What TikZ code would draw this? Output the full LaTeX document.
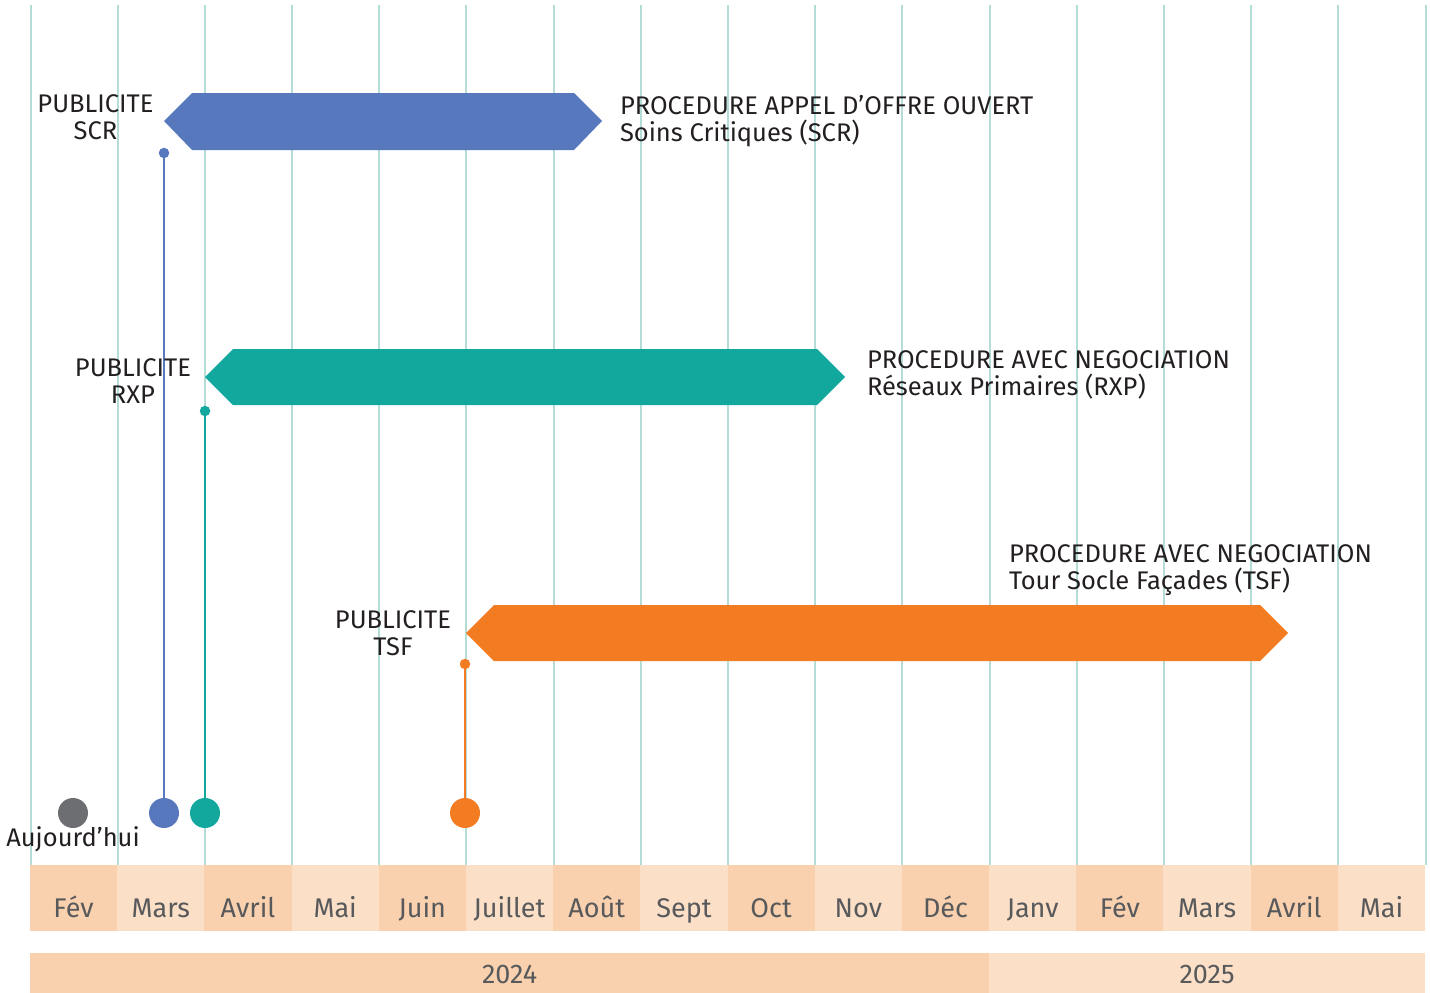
\documentclass[tikz,border=0pt]{standalone}
\usepackage{fontspec}
\setmainfont{Fira Sans}
\definecolor{gridteal}{HTML}{B5DDD8}
\definecolor{peachA}{HTML}{F9D1AF}
\definecolor{peachB}{HTML}{FBDFC7}
\definecolor{scrblue}{HTML}{5878BE}
\definecolor{rxpteal}{HTML}{13A89E}
\definecolor{tsforange}{HTML}{F37B21}
\definecolor{todaygray}{HTML}{6D6E71}
\definecolor{txtdark}{HTML}{231F20}
\definecolor{txtgray}{HTML}{58595B}
\begin{document}
\begin{tikzpicture}[x=1pt,y=-1pt,inner sep=0pt,outer sep=0pt,
gridline/.style={draw=gridteal,line width=2pt},
monthbox/.style={rectangle,anchor=north west,minimum width=87.2pt,minimum height=66pt},
yearbox/.style={rectangle,anchor=north west,minimum height=40pt},
caltext/.style={anchor=base,text=txtgray,font=\fontsize{27}{30}\selectfont},
lbl/.style={text=txtdark,font=\fontsize{25.5}{27}\selectfont},
pinhead/.style={circle,minimum size=30pt},
pinfoot/.style={circle,minimum size=10.5pt},
pinline/.style={line width=2.5pt}]
\useasboundingbox (0,0) rectangle (1430,993);

\foreach \i in {0,...,16}
  \draw[gridline] (30.5+87.19*\i,5) -- (30.5+87.19*\i,865);

\foreach \m/\c [count=\i from 0] in {Fév/peachA,Mars/peachB,Avril/peachA,Mai/peachB,Juin/peachA,Juillet/peachB,Août/peachA,Sept/peachB,Oct/peachA,Nov/peachB,Déc/peachA,Janv/peachB,Fév/peachA,Mars/peachB,Avril/peachA,Mai/peachB}
{
  \node[monthbox,fill=\c] (m\i) at (30+87.19*\i,865) {};
  \node[caltext] at ([yshift=-19pt]m\i.center) {\m};
}
\node[yearbox,fill=peachA,minimum width=959.1pt] (y24) at (30,953) {};
\node[yearbox,fill=peachB,minimum width=435.9pt] (y25) at (989.1,953) {};
\node[caltext] at ([yshift=-10pt]y24.center) {2024};
\node[caltext] at ([yshift=-10pt]y25.center) {2025};

\fill[scrblue] (164,121) -- (192,93) -- (574,93) -- (602,121) -- (574,150) -- (192,150) -- cycle;
\fill[rxpteal] (205,377) -- (233,349) -- (817,349) -- (845,377) -- (817,405) -- (233,405) -- cycle;
\fill[tsforange] (466,633) -- (494,605) -- (1260,605) -- (1288,633) -- (1260,661) -- (494,661) -- cycle;

\node[pinhead,fill=todaygray] (today) at (73,813) {};
\node[pinhead,fill=scrblue] (scrhead) at (164,813) {};
\node[pinfoot,fill=scrblue] (scrfoot) at (164,153) {};
\node[pinhead,fill=rxpteal] (rxphead) at (205,813) {};
\node[pinfoot,fill=rxpteal] (rxpfoot) at (205,411) {};
\node[pinhead,fill=tsforange] (tsfhead) at (465,813) {};
\node[pinfoot,fill=tsforange] (tsffoot) at (465,664) {};
\draw[pinline,scrblue] (scrfoot) -- (scrhead);
\draw[pinline,rxpteal] (rxpfoot) -- (rxphead);
\draw[pinline,tsforange] (tsffoot) -- (tsfhead);

\node[lbl,anchor=base] (todaylbl) at (73,846) {Aujourd’hui};
\node[lbl,anchor=base,align=center] (scrpub) at (95.5,139) {PUBLICITE\\SCR};
\node[lbl,anchor=base,align=center] (rxppub) at (133,403) {PUBLICITE\\RXP};
\node[lbl,anchor=base,align=center] (tsfpub) at (393,655) {PUBLICITE\\TSF};
\node[lbl,anchor=base west,align=left] (scrproc) at (620,141) {PROCEDURE APPEL D’OFFRE OUVERT\\Soins Critiques (SCR)};
\node[lbl,anchor=base west,align=left] (rxpproc) at (867,395) {PROCEDURE AVEC NEGOCIATION\\Réseaux Primaires (RXP)};
\node[lbl,anchor=base west,align=left] (tsfproc) at (1009,589) {PROCEDURE AVEC NEGOCIATION\\Tour Socle Façades (TSF)};
\end{tikzpicture}
\end{document}
